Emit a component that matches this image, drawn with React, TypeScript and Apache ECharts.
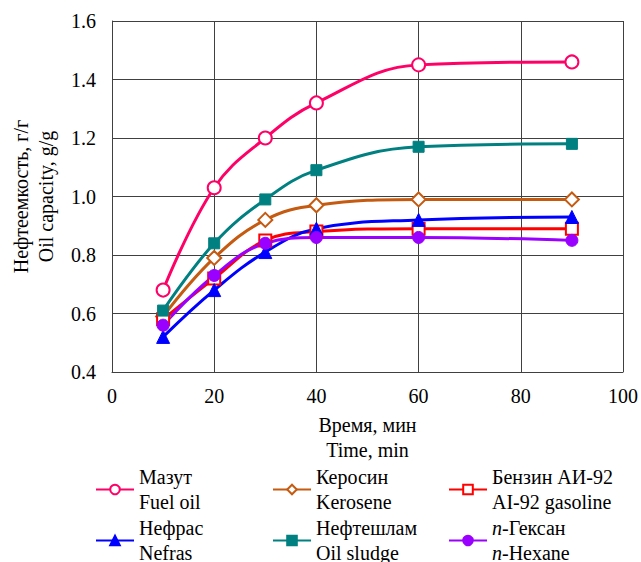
import React, { useEffect, useRef } from "react";
import * as echarts from "echarts";

const times = [10, 20, 30, 40, 60, 90];
const mazut = [0.68, 1.03, 1.2, 1.32, 1.45, 1.46];
const kerosin = [0.59, 0.79, 0.92, 0.97, 0.99, 0.99];
const benzin = [0.58, 0.72, 0.85, 0.88, 0.89, 0.89];
const nefras = [0.52, 0.68, 0.81, 0.89, 0.92, 0.93];
const neftesh = [0.61, 0.84, 0.99, 1.09, 1.17, 1.18];
const geksan = [0.56, 0.73, 0.84, 0.86, 0.86, 0.85];

const seriesNames = [
  "Мазут\nFuel oil",
  "Керосин\nKerosene",
  "Бензин АИ-92\nAI-92 gasoline",
  "Нефрас\nNefras",
  "Нефтешлам\nOil sludge",
  "n-Гексан\nn-Hexane",
];

const FONT = "'Times New Roman', 'Liberation Serif', serif";
const FS = 20;
const LH = 25.5;

export default function App() {
  const ref = useRef<HTMLDivElement>(null);
  useEffect(() => {
    if (!ref.current) return;
    const chart = echarts.init(ref.current, null, { renderer: "svg" });
    const pair = (vals: number[]) => times.map((t, i) => [t, vals[i]]);
    const mk = (
      name: string,
      vals: number[],
      color: string,
      symbol: string,
      size: number,
      hollow: boolean
    ) => ({
      name,
      type: "line",
      data: pair(vals),
      smooth: 0.4,
      symbol,
      symbolSize: size,
      showAllSymbol: true,
      lineStyle: { color, width: 3 },
      itemStyle: hollow
        ? { color: "#ffffff", borderColor: color, borderWidth: 2 }
        : { color, borderColor: color, borderWidth: 1 },
      z: 3,
    });
    const legendBase = {
      orient: "horizontal",
      itemWidth: 38,
      itemHeight: 12,
      itemGap: 0,
      textStyle: {
        fontFamily: FONT,
        fontSize: FS,
        lineHeight: LH,
        color: "#000",
        rich: {
          i: { fontFamily: FONT, fontSize: FS, fontStyle: "italic", lineHeight: LH, color: "#000" },
          r: { fontFamily: FONT, fontSize: FS, lineHeight: LH, color: "#000" },
        },
      },
      formatter: (n: string) =>
        n.startsWith("n-") ? "{i|n}{r|-Гексан}\n{i|n}{r|-Hexane}" : n,
    };
    const cols = [90, 267, 443];
    const rows = [459, 510];
    const legends = seriesNames.map((n, i) => ({
      ...legendBase,
      left: cols[i % 3],
      top: rows[Math.floor(i / 3)],
      data: [n],
    }));
    chart.setOption({
      animation: false,
      backgroundColor: "#ffffff",
      textStyle: { fontFamily: FONT },
      grid: { left: 112, right: 16, top: 21, height: 351, containLabel: false },
      xAxis: {
        type: "value",
        min: 0,
        max: 100,
        interval: 20,
        name: "Время, мин\nTime, min",
        nameLocation: "middle",
        nameGap: 40,
        nameTextStyle: { fontFamily: FONT, fontSize: FS, lineHeight: 25, color: "#000" },
        axisLine: { show: true, lineStyle: { color: "#404040", width: 1 } },
        axisTick: { show: false },
        axisLabel: { fontFamily: FONT, fontSize: FS, color: "#000", margin: 14 },
        splitLine: { show: true, lineStyle: { color: "#404040", width: 1 } },
      },
      yAxis: {
        type: "value",
        min: 0.4,
        max: 1.6,
        interval: 0.2,
        name: "Нефтеемкость, г/г\nOil capacity, g/g",
        nameLocation: "middle",
        nameRotate: 90,
        nameGap: 54,
        nameTextStyle: { fontFamily: FONT, fontSize: FS, lineHeight: 25, color: "#000" },
        axisLine: { show: true, lineStyle: { color: "#404040", width: 1 } },
        axisTick: { show: false },
        axisLabel: {
          fontFamily: FONT,
          fontSize: FS,
          color: "#000",
          margin: 16,
          formatter: (v: number) => v.toFixed(1),
        },
        splitLine: { show: true, lineStyle: { color: "#404040", width: 1 } },
      },
      legend: legends,
      series: [
        mk(seriesNames[0], mazut, "#FF0066", "circle", 13, true),
        mk(seriesNames[1], kerosin, "#C55A11", "diamond", 14, true),
        mk(seriesNames[2], benzin, "#FF0000", "rect", 12, true),
        mk(seriesNames[3], nefras, "#0000FF", "triangle", 13, false),
        mk(seriesNames[4], neftesh, "#008080", "rect", 11, false),
        mk(seriesNames[5], geksan, "#9900FF", "circle", 12, false),
      ],
    });
    return () => chart.dispose();
  }, []);
  return (
    <div
      ref={ref}
      style={{ position: "fixed", left: 0, top: 0, width: 641, height: 562 }}
    />
  );
}
